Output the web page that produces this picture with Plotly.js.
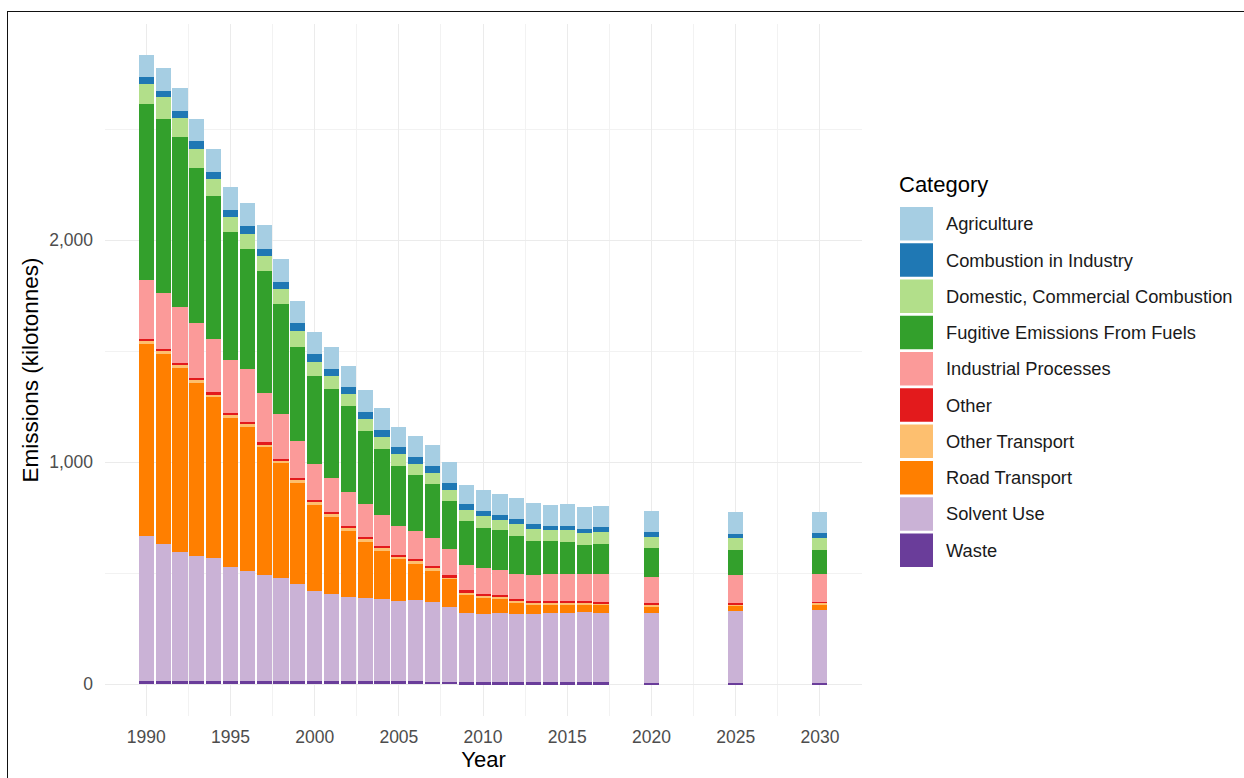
<!DOCTYPE html>
<html>
<head>
<meta charset="utf-8">
<script src="https://cdn.plot.ly/plotly-3.0.1.min.js"></script>
<style>
  html, body { margin: 0; padding: 0; background: #fff; }
  #chart { width: 1244px; height: 778px; }
  #frame { position: absolute; left: 7px; top: 11px; width: 1250px; height: 780px;
           border-left: 1.5px solid #111; border-top: 1.5px solid #111; pointer-events: none; }
</style>
</head>
<body>
<div id="chart"></div>
<div id="frame"></div>
<script>
// ---- Data (kilotonnes) ----
const years = [1990,1991,1992,1993,1994,1995,1996,1997,1998,1999,
               2000,2001,2002,2003,2004,2005,2006,2007,2008,2009,
               2010,2011,2012,2013,2014,2015,2016,2017,2020,2025,2030];

const categories = ["Agriculture","Combustion in Industry","Domestic, Commercial Combustion",
  "Fugitive Emissions From Fuels","Industrial Processes","Other","Other Transport",
  "Road Transport","Solvent Use","Waste"];

const agriculture    = [98,105,105,99,104,102,102,107,102,102,100,99,95,96,98,93,95,93,95,87,96,93,93,93,95,96,98,98,95,96,92];
const combustion     = [34,30,33,33,33,32,36,33,32,33,35,33,30,33,33,33,32,33,32,26,24,21,21,23,21,21,19,21,21,19,24];
const domestic       = [90,95,84,88,77,68,69,66,70,72,63,60,57,52,53,51,50,48,48,50,55,48,53,53,48,51,54,53,52,53,53];
const fugitive       = [791,784,767,698,644,575,538,551,494,425,396,400,387,333,299,269,252,246,218,198,180,177,174,155,150,147,132,137,128,116,108];
const industrial     = [267,255,251,246,240,239,240,221,201,167,164,155,150,147,137,131,127,125,118,113,116,114,110,116,120,120,120,125,120,124,125];
const other          = [10,10,10,10,10,10,10,10,10,10,9,9,9,9,9,9,9,9,9,8,8,8,8,8,7,7,7,7,7,5,5];
const otherTransport = [11,12,14,14,12,14,14,12,11,13,14,13,14,12,13,12,12,13,10,13,11,12,14,11,10,10,10,9,11,8,10];
const road           = [864,857,829,778,723,671,646,574,515,455,387,347,299,255,218,188,162,138,123,80,72,60,48,42,36,36,34,33,24,23,23];
const solvent        = [655,616,580,564,556,513,497,479,466,436,405,392,380,374,371,362,366,360,338,313,306,314,308,307,314,314,316,314,316,324,328];
const waste          = [13,13,13,13,13,13,13,13,13,13,13,12,12,12,12,12,12,11,10,8,8,7,7,7,7,7,7,7,5,5,5];

const seriesValues = [agriculture, combustion, domestic, fugitive, industrial,
                      other, otherTransport, road, solvent, waste];
const colors = ["#A6CEE3","#1F78B4","#B2DF8A","#33A02C","#FB9A99",
                "#E31A1C","#FDBF6F","#FF7F00","#CAB2D6","#6A3D9A"];

// ---- Layout geometry ----
const W = 1244, H = 778;
const M = {l: 105, r: 382, t: 24, b: 62};
const PW = W - M.l - M.r, PH = H - M.t - M.b;
const px2x = px => (px - M.l) / PW;
const py2y = py => (H - M.b - py) / PH;

// traces: stacked from bottom (Waste) to top (Agriculture)
const traces = [];
for (let i = categories.length - 1; i >= 0; i--) {
  traces.push({
    type: "bar",
    name: categories[i],
    x: years,
    y: seriesValues[i],
    width: 0.9,
    marker: {color: colors[i], line: {width: 0}},
    showlegend: false,
    hovertemplate: "%{x}<br>" + categories[i] + ": %{y}<extra></extra>"
  });
}

// custom ggplot-style legend
const shapes = [];
const annotations = [];
const FONT = "Liberation Sans, Arial, sans-serif";
annotations.push({
  xref: "paper", yref: "paper", x: px2x(897), y: py2y(184),
  xanchor: "left", yanchor: "middle", showarrow: false,
  text: "Category", font: {family: FONT, size: 22, color: "#000"}
});
const keyTop = 207, keyStep = 36.27, keyH = 33.5;
categories.forEach((c, i) => {
  const y0 = keyTop + i * keyStep;
  shapes.push({
    type: "rect", xref: "paper", yref: "paper",
    x0: px2x(900), x1: px2x(933), y0: py2y(y0), y1: py2y(y0 + keyH),
    fillcolor: colors[i], line: {width: 0}
  });
  annotations.push({
    xref: "paper", yref: "paper", x: px2x(944), y: py2y(y0 + keyH / 2),
    xanchor: "left", yanchor: "middle", showarrow: false,
    text: c, font: {family: FONT, size: 18.3, color: "#1a1a1a"}
  });
});

const layout = {
  width: W, height: H,
  margin: M,
  paper_bgcolor: "#fff", plot_bgcolor: "#fff",
  barmode: "stack",
  bargap: 0,
  showlegend: false,
  font: {family: FONT},
  xaxis: {
    range: [1987.55, 2032.5],
    tick0: 1990, dtick: 5,
    showgrid: true, gridcolor: "#EBEBEB", gridwidth: 1.3,
    minor: {dtick: 2.5, showgrid: true, gridcolor: "#F2F2F2", gridwidth: 0.8},
    zeroline: false, showline: false, ticks: "",
    ticklabelstandoff: 8,
    tickfont: {family: FONT, size: 17.5, color: "#4D4D4D"},
    title: {text: "Year", font: {family: FONT, size: 22, color: "#000"}, standoff: 6}
  },
  yaxis: {
    range: [-144, 2973],
    tick0: 0, dtick: 1000, tickformat: ",d",
    showgrid: true, gridcolor: "#EBEBEB", gridwidth: 1.3,
    minor: {dtick: 500, showgrid: true, gridcolor: "#F2F2F2", gridwidth: 0.8},
    zeroline: false, showline: false, ticks: "",
    ticklabelstandoff: 11,
    tickfont: {family: FONT, size: 17.5, color: "#4D4D4D"},
    title: {text: "Emissions (kilotonnes)", font: {family: FONT, size: 22.5, color: "#000"}, standoff: 4}
  },
  shapes: shapes,
  annotations: annotations
};

Plotly.newPlot("chart", traces, layout, {displayModeBar: false, responsive: false});
</script>
</body>
</html>
